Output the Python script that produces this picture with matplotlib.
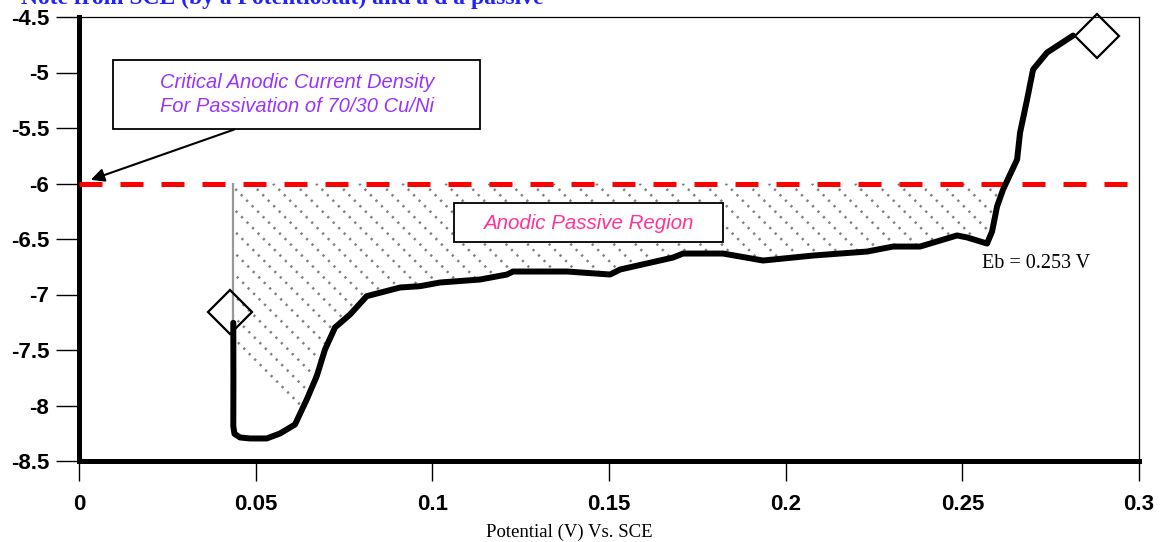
import numpy as np
import matplotlib
matplotlib.use('Agg')
import matplotlib.pyplot as plt
from matplotlib.patches import Rectangle

# potential (V vs SCE) and log current density
potential = [0.04367, 0.0437, 0.04367, 0.0440, 0.04557, 0.0484, 0.05313, 0.0569, 0.06114,
             0.06445, 0.06728, 0.06963, 0.07246, 0.07671, 0.08143, 0.09086, 0.09652,
             0.10218, 0.1135, 0.12114, 0.12284, 0.13813, 0.1503, 0.15313, 0.16813,
             0.17096, 0.18228, 0.1936, 0.20776, 0.22304, 0.2304, 0.23804, 0.24851,
             0.25134, 0.25700, 0.25842, 0.25983, 0.26153, 0.2655, 0.26634, 0.26833,
             0.27002, 0.27399, 0.28135]
log_i = [-7.255, -7.77, -8.186, -8.255, -8.288, -8.297, -8.297, -8.252, -8.171,
         -7.946, -7.736, -7.495, -7.297, -7.180, -7.015, -6.937, -6.925,
         -6.892, -6.865, -6.820, -6.793, -6.793, -6.820, -6.775, -6.667,
         -6.631, -6.631, -6.694, -6.649, -6.613, -6.568, -6.568, -6.468,
         -6.486, -6.541, -6.432, -6.207, -6.054, -5.784, -5.541, -5.243,
         -4.973, -4.820, -4.667]

crit_density = -6.0
marker_x = [0.04274, 0.28814]
marker_y = [-7.162, -4.667]

x_ticks = [0, 0.05, 0.1, 0.15, 0.2, 0.25, 0.3]
x_labels = ['0', '0.05', '0.1', '0.15', '0.2', '0.25', '0.3']
y_ticks = [-4.5, -5, -5.5, -6, -6.5, -7, -7.5, -8, -8.5]
y_labels = ['-4.5', '-5', '-5.5', '-6', '-6.5', '-7', '-7.5', '-8', '-8.5']

fig = plt.figure(figsize=(11.63, 5.42), dpi=100)
ax = fig.add_axes([79 / 1163, 81 / 542, 1060 / 1163, 444 / 542])
ax.set_xlim(0, 0.3)
ax.set_ylim(-8.5, -4.5)

x = np.array(potential)
y = np.array(log_i)

# passive region, dotted diagonal hatching clipped to it
region = ax.fill_between(x, y, crit_density, where=y <= crit_density, interpolate=True,
                         facecolor='none', edgecolor='none', linewidth=0)
clip = region.get_paths()[0]
slope = -(4.0 / 0.3) * (1060 / 444)
for x0 in np.arange(0.0, 0.32, 0.0061):
    hx = np.array([x0, x0 + 3 / abs(slope)])
    hy = crit_density + slope * (hx - x0)
    ln, = ax.plot(hx, hy, color='#808080', lw=1.8, dashes=(0.9, 2.2), zorder=2)
    ln.set_clip_path(clip, ax.transData)
ax.plot([x[0], x[0]], [crit_density, y[0] - 0.08], color='#999999', lw=1.6, zorder=2)

ax.axhline(crit_density, color='#ff0000', lw=3.6, dashes=(4.6, 3.6), zorder=3)
ax.plot(x, y, color='black', lw=4.3, solid_joinstyle='round', solid_capstyle='round', zorder=4)
ax.plot(marker_x, marker_y, ls='none', marker='D', ms=22, mfc='none', mec='black',
        mew=1.6, clip_on=False, zorder=5)

# annotation boxes
ax.add_patch(Rectangle((0.032, 0.748), 0.346, 0.155, transform=ax.transAxes,
                       facecolor='white', edgecolor='black', lw=1.3, zorder=6))
ax.text(0.2057, 0.8255, 'Critical Anodic Current Density\nFor Passivation of 70/30 Cu/Ni',
        transform=ax.transAxes, ha='center', va='center', color='#9933ff',
        family='Liberation Sans', style='italic', fontsize=14.5, linespacing=1.35, zorder=7)
ax.add_patch(Rectangle((0.3538, 0.4932), 0.2537, 0.0879, transform=ax.transAxes,
                       facecolor='white', edgecolor='black', lw=1.3, zorder=6))
ax.text(0.480, 0.536, 'Anodic Passive Region', transform=ax.transAxes, ha='center',
        va='center', color='#ff3399', family='Liberation Sans', style='italic',
        fontsize=14.8, zorder=7)
ax.annotate('', xy=(0.0026, -5.975), xytext=(0.0447, -5.505),
            arrowprops=dict(arrowstyle='-|>', color='black', lw=1.5, mutation_scale=20),
            zorder=7)
ax.text(0.2555, -6.72, 'Eb = 0.253 V', family='Liberation Serif', fontsize=14.5,
        ha='left', va='center', zorder=7)

# axes styling
for side in ['left', 'bottom']:
    ax.spines[side].set_linewidth(3.6)
for side in ['top', 'right']:
    ax.spines[side].set_linewidth(0.9)
ax.set_xticks(x_ticks)
ax.set_xticklabels(x_labels)
ax.set_yticks(y_ticks)
ax.set_yticklabels(y_labels)
ax.tick_params(axis='y', direction='out', length=16.5, width=1, pad=5)
ax.tick_params(axis='x', direction='out', length=14.5, width=1, pad=9)
for lab in ax.get_xticklabels() + ax.get_yticklabels():
    lab.set_fontfamily('Liberation Sans')
    lab.set_fontweight('bold')
    lab.set_fontsize(16)

ax.set_xlabel('Potential (V) Vs. SCE', family='Liberation Serif', fontsize=13.5)
ax.xaxis.set_label_coords(0.463, -0.142)

# title, cut off at the top edge of the image (as in the source figure)
fig.text(0.018, 0.992, 'Note from SCE (by a Potentiostat) and a d a passive',
         color='#2222ff', family='Liberation Serif', fontweight='bold', fontsize=17,
         va='baseline', ha='left')

plt.savefig('out.png', dpi=100)
